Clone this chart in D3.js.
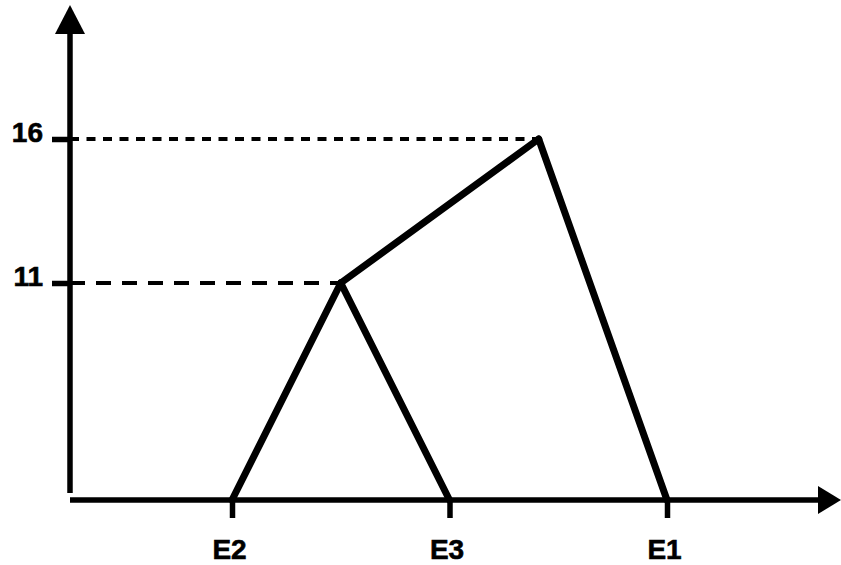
<!DOCTYPE html>
<html>
<head>
<meta charset="utf-8">
<script src="https://cdn.jsdelivr.net/npm/d3@7"></script>
<style>
  html, body { margin: 0; padding: 0; background: #fff; }
  svg { display: block; }
  .lbl { font-family: "Liberation Sans", Arial, Helvetica, sans-serif; font-weight: bold; font-size: 28px; fill: #000; stroke: #000; stroke-width: 0.6px; }
</style>
</head>
<body>
<svg id="chart" width="841" height="565"></svg>
<script>
// ---- data ----
const leafLabels = ["E2", "E3", "E1"];
const leafPositions = [1, 2, 3];
const mergeHeights = [11, 16];
const mergePositions = [1.5, 2.41];
const yTickValues = [11, 16];
// tree: [fromNode, toNode]; leaves are "E*", merges are "M0","M1"
const links = [
  ["E2", "M0"],
  ["E3", "M0"],
  ["M0", "M1"],
  ["E1", "M1"]
];

// ---- layout ----
const svg = d3.select("#chart");
const x = d3.scaleLinear().domain([1, 3]).range([232, 667]);
const y = d3.scaleLinear().domain([0, 11, 16]).range([500, 283, 139]);

const node = {};
leafLabels.forEach((l, i) => node[l] = { px: leafPositions[i], h: 0 });
mergeHeights.forEach((h, i) => node["M" + i] = { px: mergePositions[i], h: h });

// dashed guide lines
const dashes = ["15,11", "9,7.5"];
svg.append("g").selectAll("line")
  .data(mergeHeights)
  .join("line")
  .attr("x1", 70)
  .attr("x2", (d, i) => x(mergePositions[i]))
  .attr("y1", d => y(d))
  .attr("y2", d => y(d))
  .attr("stroke", "#000")
  .attr("stroke-width", 4)
  .attr("stroke-dasharray", (d, i) => dashes[i]);

// axes lines
const axisG = svg.append("g");
axisG.append("line").attr("x1", 70).attr("x2", 70).attr("y1", 30).attr("y2", 493)
  .attr("stroke", "#000").attr("stroke-width", 5.5);
axisG.append("line").attr("x1", 70).attr("x2", 822).attr("y1", 500).attr("y2", 500)
  .attr("stroke", "#000").attr("stroke-width", 5.5);
axisG.append("path").attr("d", "M70,5 L55,34 L85,34 Z").attr("fill", "#000");
axisG.append("path").attr("d", "M841,500 L818,486 L818,514 Z").attr("fill", "#000");

// y ticks
const yAxis = d3.axisLeft(y).tickValues(yTickValues).tickSize(18).tickPadding(9).tickFormat(d3.format("d"));
const gy = svg.append("g").attr("transform", "translate(70,0)").call(yAxis)
  .attr("font-family", null).attr("font-size", null);
gy.select(".domain").remove();
gy.selectAll(".tick line").attr("stroke", "#000").attr("stroke-width", 5.5);
gy.selectAll(".tick text").attr("class", "lbl").attr("fill", null).attr("dy", "0.1em");

// x ticks
const xAxis = d3.axisBottom(x).tickValues(leafPositions).tickSize(18).tickPadding(21)
  .tickFormat((d, i) => leafLabels[i]);
const gx = svg.append("g").attr("transform", "translate(0,500)").call(xAxis)
  .attr("font-family", null).attr("font-size", null);
gx.select(".domain").remove();
gx.selectAll(".tick line").attr("stroke", "#000").attr("stroke-width", 5.5);
gx.selectAll(".tick text").attr("class", "lbl").attr("fill", null).attr("dx", -3).attr("dy", "0.71em");

// tree links
svg.append("g").selectAll("line")
  .data(links)
  .join("line")
  .attr("x1", d => x(node[d[0]].px))
  .attr("y1", d => y(node[d[0]].h))
  .attr("x2", d => x(node[d[1]].px))
  .attr("y2", d => y(node[d[1]].h))
  .attr("stroke", "#000")
  .attr("stroke-width", 7)
  .attr("stroke-linecap", "round");
</script>
</body>
</html>
